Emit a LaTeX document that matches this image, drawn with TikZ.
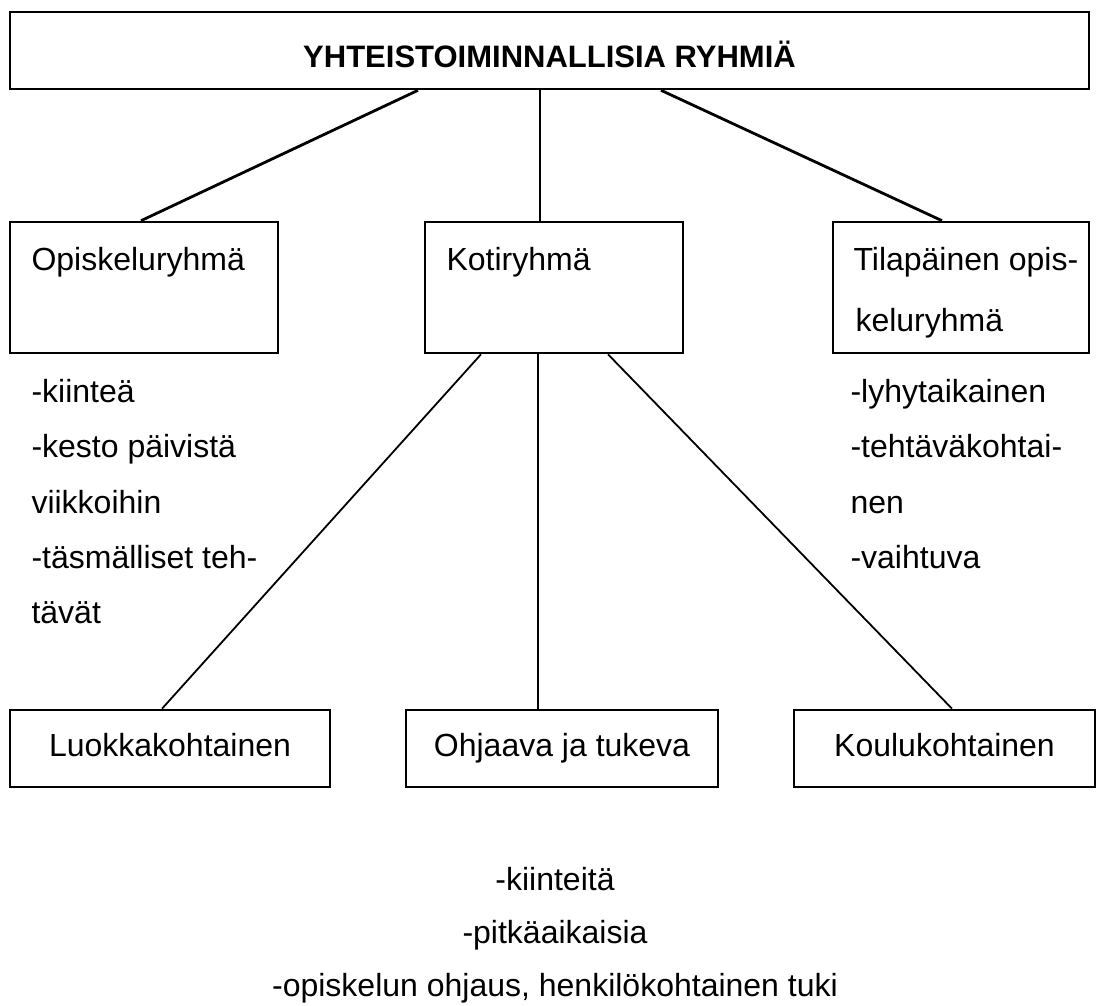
\documentclass[tikz,border=0pt]{standalone}
\usepackage{fontspec}
\setmainfont{Liberation Sans}
\tikzset{
  box/.style={draw, line width=2.6pt, inner sep=0pt},
  txt/.style={font=\fontsize{32}{38}\selectfont},
  link/.style={line width=2.8pt},
  thinlink/.style={line width=1.8pt},
}
\begin{document}
\begin{tikzpicture}[x=1pt,y=-1pt]
    \useasboundingbox (0,0) rectangle (1097,1006);

    % Main box
    \node[box, minimum width=1079pt, minimum height=77pt, text height=35pt, text depth=0pt, font=\bfseries\fontsize{31}{36}\selectfont] (ryhmat) at (549.5,50.5) {YHTEISTOIMINNALLISIA RYHMIÄ};

    % Group boxes
    \node[box, minimum width=268pt, minimum height=131pt] (opisk) at (144,287.5) {};
    \node[box, minimum width=258pt, minimum height=131pt] (koti) at (554,287.5) {};
    \node[box, minimum width=256pt, minimum height=131pt] (tilap) at (961,287.5) {};

    % Group names
    \node[txt, anchor=base west] (opiskname) at (28,270) {Opiskeluryhmä};
    \node[txt, anchor=base west] (kotiname) at (443,270) {Kotiryhmä};
    \node[txt, anchor=base west] (tilapname) at (850,270) {Tilapäinen opis-};
    \node[txt, anchor=base west] (tilapname2) at (852,331) {keluryhmä};

    % Home group types
    \node[box, txt, minimum width=320pt, minimum height=77pt, text height=23pt, text depth=7pt] (luokka) at (170,748.5) {Luokkakohtainen};
    \node[box, txt, minimum width=312pt, minimum height=77pt, text height=23pt, text depth=7pt] (ohjaava) at (562,748.5) {Ohjaava ja tukeva};
    \node[box, txt, minimum width=301pt, minimum height=77pt, text height=23pt, text depth=7pt] (koulu) at (944.5,748.5) {Koulukohtainen};

    % Connectors
    \draw[link] ([xshift=-131.5pt]ryhmat.south) -- ([xshift=-3pt]opisk.north);
    \draw[link] ([xshift=-9.5pt]ryhmat.south) -- ([xshift=-14pt]koti.north);
    \draw[link] ([xshift=111.5pt]ryhmat.south) -- ([xshift=-19pt]tilap.north);
    \draw[thinlink] ([xshift=-73pt]koti.south) -- ([xshift=-8pt]luokka.north);
    \draw[thinlink] ([xshift=-16pt]koti.south) -- ([xshift=-24pt]ohjaava.north);
    \draw[thinlink] ([xshift=54pt]koti.south) -- ([xshift=7.5pt]koulu.north);

    % Study group notes
    \node[txt, anchor=base west] (op1) at (28,402) {-kiinteä};
    \node[txt, anchor=base west] (op2) at (28,457) {-kesto päivistä};
    \node[txt, anchor=base west] (op3) at (28,513) {viikkoihin};
    \node[txt, anchor=base west] (op4) at (28,568) {-täsmälliset teh-};
    \node[txt, anchor=base west] (op5) at (28,623) {tävät};

    % Temporary group notes
    \node[txt, anchor=base west] (ti1) at (847,402) {-lyhytaikainen};
    \node[txt, anchor=base west] (ti2) at (847,457) {-tehtäväkohtai-};
    \node[txt, anchor=base west] (ti3) at (847,513) {nen};
    \node[txt, anchor=base west] (ti4) at (847,568) {-vaihtuva};

    % Home group notes
    \node[txt, anchor=base] (ko1) at (555,890) {-kiinteitä};
    \node[txt, anchor=base] (ko2) at (555,943) {-pitkäaikaisia};
    \node[txt, anchor=base] (ko3) at (555,996) {-opiskelun ohjaus, henkilökohtainen tuki};
\end{tikzpicture}
\end{document}
